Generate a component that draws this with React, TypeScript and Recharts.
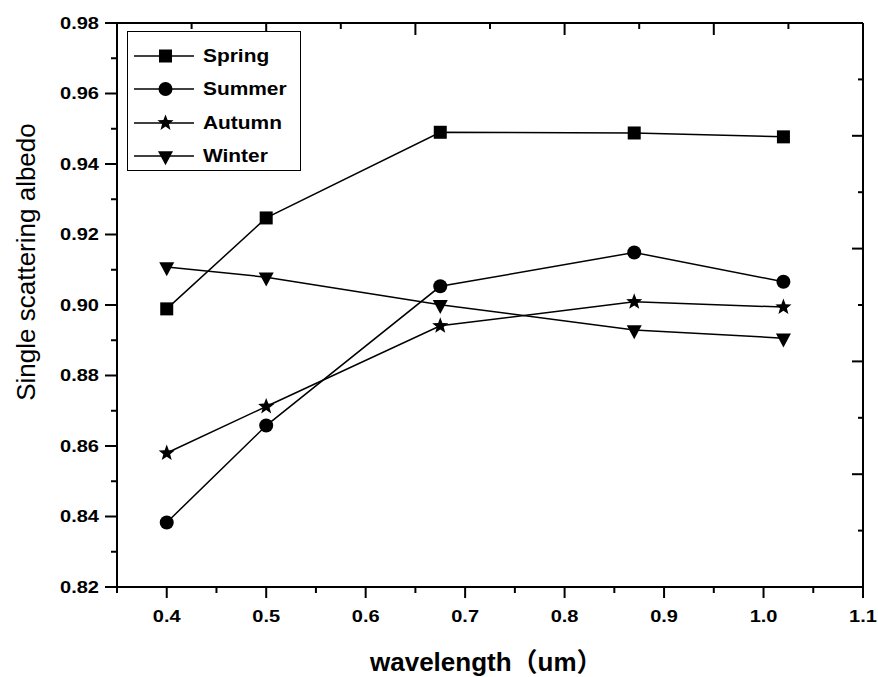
import React from 'react';
import { LineChart, Line, XAxis, YAxis, Legend } from 'recharts';

// wavelength (um) and single scattering albedo per season
const WAVELENGTHS = [0.4, 0.5, 0.675, 0.87, 1.02];
const SPRING = [0.8989, 0.9247, 0.949, 0.9488, 0.9477];
const SUMMER = [0.8383, 0.8658, 0.9053, 0.9149, 0.9066];
const AUTUMN = [0.858, 0.8712, 0.8941, 0.9009, 0.8994];
const WINTER = [0.9108, 0.9079, 0.9001, 0.8929, 0.8906];

const X_TICKS = [0.35, 0.4, 0.45, 0.5, 0.55, 0.6, 0.65, 0.7, 0.75, 0.8, 0.85, 0.9, 0.95, 1.0, 1.05, 1.1];
const Y_TICKS = [0.82, 0.83, 0.84, 0.85, 0.86, 0.87, 0.88, 0.89, 0.9, 0.91, 0.92, 0.93, 0.94, 0.95, 0.96, 0.97, 0.98];
const TOP_TICKS = [0.35, 0.425, 0.5, 0.575, 0.65, 0.725, 0.8, 0.875, 0.95, 1.025, 1.1];
const RIGHT_TICKS = [0.82, 0.836, 0.852, 0.868, 0.884, 0.9, 0.916, 0.932, 0.948, 0.964, 0.98];

type Shape = 'square' | 'circle' | 'star' | 'triangle';

const SERIES: { key: string; name: string; values: number[]; shape: Shape }[] = [
  { key: 'spring', name: 'Spring', values: SPRING, shape: 'square' },
  { key: 'summer', name: 'Summer', values: SUMMER, shape: 'circle' },
  { key: 'autumn', name: 'Autumn', values: AUTUMN, shape: 'star' },
  { key: 'winter', name: 'Winter', values: WINTER, shape: 'triangle' },
];

const data = WAVELENGTHS.map((w, i) => {
  const row: Record<string, number> = { w };
  for (const s of SERIES) row[s.key] = s.values[i];
  return row;
});

const FONT = '"Liberation Sans", Arial, "Noto Sans CJK SC", sans-serif';

function starPoints(cx: number, cy: number, outer: number, inner: number) {
  const pts: string[] = [];
  for (let i = 0; i < 10; i++) {
    const r = i % 2 === 0 ? outer : inner;
    const a = -Math.PI / 2 + (i * Math.PI) / 5;
    pts.push(`${cx + r * Math.cos(a)},${cy + r * Math.sin(a)}`);
  }
  return pts.join(' ');
}

function Marker({ cx, cy, shape }: { cx: number; cy: number; shape: Shape }) {
  if (shape === 'square') {
    return <rect x={cx - 6.5} y={cy - 6.5} width={13} height={13} fill="#000" />;
  }
  if (shape === 'circle') {
    return <circle cx={cx} cy={cy} r={7} fill="#000" />;
  }
  if (shape === 'star') {
    return <polygon points={starPoints(cx, cy, 8.5, 3.6)} fill="#000" />;
  }
  return (
    <polygon
      points={`${cx - 7.5},${cy - 4.7} ${cx + 7.5},${cy - 4.7} ${cx},${cy + 9.3}`}
      fill="#000"
    />
  );
}

const isMajor = (v: number, step: number) =>
  Math.abs(v / step - Math.round(v / step)) < 1e-6;

const BottomTick = (props: any) => {
  const { x, y, payload } = props;
  const v = payload.value as number;
  const major = isMajor(v, 0.1);
  return (
    <g>
      <line x1={x} y1={y} x2={x} y2={y + (major ? 11 : 6)} stroke="#000" strokeWidth={2} />
      {major && (
        <text
          transform={`translate(${x},${y + 35}) scale(1.25,1)`}
          textAnchor="middle"
          fontFamily={FONT}
          fontWeight="bold"
          fontSize={16}
          fill="#000"
        >
          {v.toFixed(1)}
        </text>
      )}
    </g>
  );
};

const LeftTick = (props: any) => {
  const { x, y, payload } = props;
  const v = payload.value as number;
  const major = isMajor(v, 0.02);
  return (
    <g>
      <line x1={x - (major ? 12 : 6)} y1={y} x2={x} y2={y} stroke="#000" strokeWidth={2} />
      {major && (
        <text
          transform={`translate(${x - 18},${y + 5.7}) scale(1.25,1)`}
          textAnchor="end"
          fontFamily={FONT}
          fontWeight="bold"
          fontSize={16}
          fill="#000"
        >
          {v.toFixed(2)}
        </text>
      )}
    </g>
  );
};

const TopTick = (props: any) => {
  const { x, y, index } = props;
  return <line x1={x} y1={y} x2={x} y2={y + (index % 2 === 0 ? 12 : 6)} stroke="#000" strokeWidth={2} />;
};

const RightTick = (props: any) => {
  const { x, y, index } = props;
  return <line x1={x - (index % 2 === 0 ? 11 : 5)} y1={y} x2={x} y2={y} stroke="#000" strokeWidth={2} />;
};

const XTitle = (props: any) => {
  const vb = props.viewBox;
  return (
    <text
      x={vb.x + vb.width / 2 - 120}
      y={vb.y + 84}
      textAnchor="start"
      fontFamily={FONT}
      fontWeight="bold"
      fontSize={26}
      fill="#000"
    >
      wavelength（um）
    </text>
  );
};

const YTitle = () => (
  <text
    x={35}
    y={262}
    transform="rotate(-90, 35, 262)"
    textAnchor="middle"
    fontFamily={FONT}
    fontSize={26}
    fill="#000"
  >
    Single scattering albedo
  </text>
);

const LegendBox = () => (
  <div style={{ paddingTop: 7 }}>
    {SERIES.map((s) => (
      <div key={s.key} style={{ display: 'flex', alignItems: 'center', height: 33.5 }}>
        <svg width={60} height={20} style={{ marginLeft: 6, display: 'block' }}>
          <line x1={0} y1={10} x2={60} y2={10} stroke="#000" strokeWidth={1.5} />
          <Marker cx={31.5} cy={10} shape={s.shape} />
        </svg>
        <span
          style={{
            marginLeft: 9,
            fontFamily: FONT,
            fontWeight: 'bold',
            fontSize: 19,
            display: 'inline-block',
            transform: 'scaleX(1.1)',
            transformOrigin: 'left center',
            color: '#000',
          }}
        >
          {s.name}
        </span>
      </div>
    ))}
  </div>
);

export default function App() {
  return (
    <div style={{ position: 'absolute', left: 0, top: 0, background: '#fff' }}>
      <LineChart width={878} height={677} data={data} margin={{ top: 22, right: 14, bottom: 0, left: 0 }}>
        <XAxis
          dataKey="w"
          type="number"
          domain={[0.35, 1.1]}
          ticks={X_TICKS}
          interval={0}
          allowDataOverflow
          height={90}
          tickSize={0}
          tickMargin={0}
          tickLine={false}
          tick={<BottomTick />}
          axisLine={{ stroke: '#000', strokeWidth: 2 }}
          label={<XTitle />}
        />
        <XAxis
          xAxisId="top"
          dataKey="w"
          orientation="top"
          type="number"
          domain={[0.35, 1.1]}
          ticks={TOP_TICKS}
          interval={0}
          allowDataOverflow
          height={1}
          tickSize={0}
          tickMargin={0}
          tickLine={false}
          tick={<TopTick />}
          axisLine={{ stroke: '#000', strokeWidth: 2 }}
        />
        <YAxis
          type="number"
          domain={[0.82, 0.98]}
          ticks={Y_TICKS}
          interval={0}
          allowDataOverflow
          width={117}
          tickSize={0}
          tickMargin={0}
          tickLine={false}
          tick={<LeftTick />}
          axisLine={{ stroke: '#000', strokeWidth: 2 }}
          label={<YTitle />}
        />
        <YAxis
          yAxisId="right"
          orientation="right"
          type="number"
          domain={[0.82, 0.98]}
          ticks={RIGHT_TICKS}
          interval={0}
          allowDataOverflow
          width={1}
          tickSize={0}
          tickMargin={0}
          tickLine={false}
          tick={<RightTick />}
          axisLine={{ stroke: '#000', strokeWidth: 2 }}
        />
        <Legend
          layout="vertical"
          align="center"
          verticalAlign="middle"
          content={<LegendBox />}
          wrapperStyle={{
            left: 127,
            top: 31,
            width: 174,
            height: 140,
            border: '1px solid #000',
            boxSizing: 'border-box',
            background: '#fff',
          }}
        />
        {/* invisible series so the top and right frame axes get drawn */}
        <Line
          xAxisId="top"
          yAxisId="right"
          dataKey="spring"
          stroke="none"
          dot={false}
          activeDot={false}
          legendType="none"
          isAnimationActive={false}
        />
        {SERIES.map((s) => (
          <Line
            key={s.key}
            dataKey={s.key}
            name={s.name}
            type="linear"
            stroke="#000"
            strokeWidth={1.5}
            isAnimationActive={false}
            dot={(p: any) => <Marker key={`${s.key}-${p.index}`} cx={p.cx} cy={p.cy} shape={s.shape} />}
            activeDot={false}
          />
        ))}
      </LineChart>
    </div>
  );
}
